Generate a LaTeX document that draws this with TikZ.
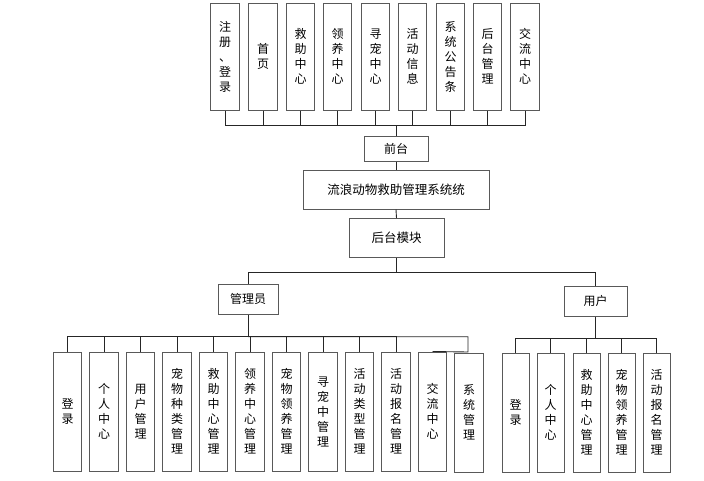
\documentclass[tikz,border=0pt]{standalone}
\usepackage{fontspec}
\setmainfont{Noto Sans CJK SC}
\begin{document}
\begin{tikzpicture}[x=1pt,y=-1pt,
  box/.style={draw=black!65, line width=1pt, fill=white, inner sep=0pt, align=center,
     font=\fontsize{12}{15}\selectfont},
  vbox/.style={box, minimum width=28.5pt, minimum height=107pt},
  abox/.style={box, minimum width=28.5pt, minimum height=119pt},
  ubox/.style={box, minimum width=27pt, minimum height=119pt},
  conn/.style={draw=black!85, line width=0.9pt}]
\useasboundingbox (0,0) rectangle (704,480);
% top row
\node[vbox] (t1) at (225,56.5) {注\\册\\、\\登\\录};
\node[vbox] (t2) at (263,56.5) {首\\页};
\node[vbox] (t3) at (300.5,56.5) {救\\助\\中\\心};
\node[vbox] (t4) at (337.7,56.5) {领\\养\\中\\心};
\node[vbox] (t5) at (375.5,56.5) {寻\\宠\\中\\心};
\node[vbox] (t6) at (412.5,56.5) {活\\动\\信\\息};
\node[vbox] (t7) at (450.5,56.5) {系\\统\\公\\告\\条};
\node[vbox] (t8) at (487.5,56.5) {后\\台\\管\\理};
\node[vbox] (t9) at (525,56.5) {交\\流\\中\\心};
\coordinate (tb) at (396,125);
\foreach \i in {1,...,9}{\draw[conn] (t\i.south) |- (tb);}
% middle
\node[box, minimum width=64pt, minimum height=25pt] (qt) at (396,148.5) {前台};
\node[box, minimum width=186pt, minimum height=39pt, font=\fontsize{12.5}{15}\selectfont] (sys) at (396,189.5) {流浪动物救助管理系统统};
\node[box, minimum width=95pt, minimum height=39pt, font=\fontsize{12.5}{15}\selectfont] (ht) at (396.5,238) {后台模块};
\draw[conn] (tb) -- (qt.north);
\draw[conn] (qt.south) -- (sys.north);
\draw[conn] (sys.south) -- (ht.north);
\coordinate (mb) at (396.5,272.7);
\draw[conn] (ht.south) -- (mb);
% roles
\node[box, minimum width=60pt, minimum height=30pt] (adm) at (248,299) {管理员};
\node[box, minimum width=63pt, minimum height=30pt] (usr) at (595.5,301) {用户};
\draw[conn] (adm.north) |- (mb);
\draw[conn] (usr.north) |- (mb);
% admin children
\node[abox] (a1) at (67.5,411.5) {登\\录};
\node[abox] (a2) at (104,411.5) {个\\人\\中\\心};
\node[abox] (a3) at (140.5,411.5) {用\\户\\管\\理};
\node[abox] (a4) at (177,411.5) {宠\\物\\种\\类\\管\\理};
\node[abox] (a5) at (213.5,411.5) {救\\助\\中\\心\\管\\理};
\node[abox] (a6) at (250,411.5) {领\\养\\中\\心\\管\\理};
\node[abox] (a7) at (286.5,411.5) {宠\\物\\领\\养\\管\\理};
\node[abox] (a8) at (323,411.5) {寻\\宠\\中\\管\\理};
\node[abox] (a9) at (359.5,411.5) {活\\动\\类\\型\\管\\理};
\node[abox] (a10) at (396,411.5) {活\\动\\报\\名\\管\\理};
\node[abox] (a11) at (432.5,411.5) {交\\流\\中\\心};
\node[abox] (a12) at (469,412.5) {系\\统\\管\\理};
\coordinate (ab) at (248,336.7);
\draw[conn] (adm.south) -- (ab);
\foreach \i in {1,...,10}{\draw[conn] (ab) -| (a\i.north);}
\coordinate (ae) at (468,352);
\draw[conn] (ab) -| (ae) -- (a11.north);
% user children
\node[ubox] (u1) at (515.5,412.5) {登\\录};
\node[ubox] (u2) at (550.5,412.5) {个\\人\\中\\心};
\node[ubox] (u3) at (586.5,412.5) {救\\助\\中\\心\\管\\理};
\node[ubox] (u4) at (621.5,412.5) {宠\\物\\领\\养\\管\\理};
\node[ubox] (u5) at (656.5,412.5) {活\\动\\报\\名\\管\\理};
\coordinate (ub) at (595.5,338.3);
\draw[conn] (usr.south) -- (ub);
\foreach \i in {1,...,5}{\draw[conn] (ub) -| (u\i.north);}
\end{tikzpicture}
\end{document}
